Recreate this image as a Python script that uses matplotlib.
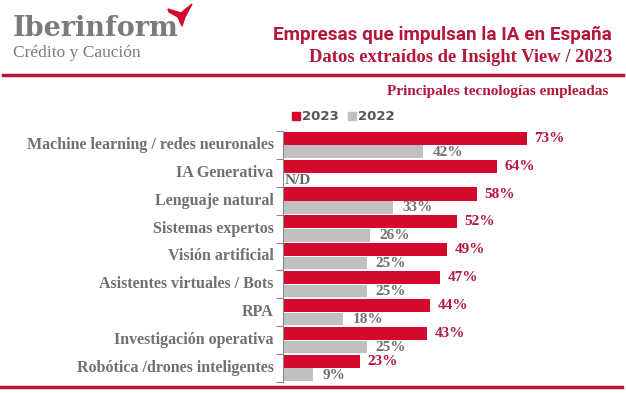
import matplotlib
matplotlib.use("Agg")
import matplotlib.pyplot as plt
from matplotlib.patches import Polygon, Rectangle
from matplotlib.lines import Line2D
import numpy as np

# datos
categorias = ["Machine learning / redes neuronales", "IA Generativa", "Lenguaje natural",
              "Sistemas expertos", "Visión artificial", "Asistentes virtuales / Bots",
              "RPA", "Investigación operativa", "Robótica /drones inteligentes"]
valores_2023 = [73, 64, 58, 52, 49, 47, 44, 43, 23]
valores_2022 = [42, None, 33, 26, 25, 25, 18, 25, 9]
series = ["2023", "2022"]

ROJO = "#d20a2e"
ROJO_TXT = "#b5173c"
GRIS = "#c0c0c0"
GRIS_TXT = "#707070"
W, H = 626, 393

fig = plt.figure(figsize=(W / 100, H / 100), dpi=100)

def fx(px):
    return px / W

def fy(py):
    return 1 - py / H

serif = dict(family="Liberation Serif", weight="bold")

# cabecera
fig.text(fx(13), fy(36), "Iberinform", color="#7b7b7b", fontsize=19.5,
         family="DejaVu Serif", weight="bold")
fig.text(fx(13), fy(57), "Crédito y Caución", color="#7b7b7b", fontsize=12.5,
         family="Liberation Serif")
pajaro = [(168, 9), (181, 13), (192, 4), (185, 17), (182, 26), (178, 17), (169, 12)]
fig.patches.append(Polygon([(fx(a), fy(b)) for a, b in pajaro], closed=True, color=ROJO,
                           transform=fig.transFigure))

fig.text(fx(612), fy(40), "Empresas que impulsan la IA en España", color=ROJO_TXT,
         fontsize=13.6, family="Roboto", weight="bold", ha="right")
fig.text(fx(612), fy(62), "Datos extraídos de Insight View / 2023", color=ROJO_TXT,
         fontsize=13.4, ha="right", **serif)
fig.lines.append(Line2D([fx(3), fx(623)], [fy(75), fy(75)], color="#b5173c", lw=2.5,
                        transform=fig.transFigure))
fig.text(fx(608), fy(95), "Principales tecnologías empleadas", color=ROJO_TXT,
         fontsize=11, ha="right", **serif)
fig.lines.append(Line2D([fx(0), fx(622)], [fy(387), fy(387)], color="#b5173c", lw=2.5,
                        transform=fig.transFigure))

# leyenda
for x0, col, lab in [(292, ROJO, series[0]), (348, GRIS, series[1])]:
    fig.patches.append(Rectangle((fx(x0), fy(120)), fx(8), 8 / H, color=col,
                                 transform=fig.transFigure))
    fig.text(fx(x0 + 10), fy(116), lab, color="#555555", fontsize=9.5,
             family="DejaVu Sans", weight="bold", va="center")

# grafico
ax = fig.add_axes([fx(283), fy(382), fx(334), (382 - 131) / H])
y = np.arange(len(categorias))
ax.barh(y - 0.24, valores_2023, height=0.47, color=ROJO)
v22 = [v if v is not None else 0 for v in valores_2022]
ax.barh(y + 0.24, v22, height=0.45, color=GRIS)

for i in range(len(categorias)):
    ax.text(valores_2023[i] + 2.3, i - 0.24, f"{valores_2023[i]}%", color=ROJO_TXT,
            fontsize=11, va="center", **serif)
    if valores_2022[i] is None:
        ax.text(0.6, i + 0.26, "N/D", color="#666666", fontsize=11, va="center", **serif)
    else:
        ax.text(valores_2022[i] + 2.8, i + 0.26, f"{valores_2022[i]}%", color=GRIS_TXT,
                fontsize=11, va="center", **serif)
    ax.text(-2.8, i, categorias[i], color=GRIS_TXT, fontsize=11.5, ha="right", va="center",
            **serif)

ax.set_xlim(0, 100)
ax.set_ylim(len(categorias) - 0.5, -0.5)
ax.set_yticks(np.arange(len(categorias) + 1) - 0.5)
ax.set_yticklabels([])
ax.tick_params(axis="y", length=5, color="#888888", width=0.8)
ax.set_xticks([])
for s in ["top", "right", "bottom"]:
    ax.spines[s].set_visible(False)
ax.spines["left"].set_color("#888888")
ax.spines["left"].set_linewidth(0.8)
ax.patch.set_alpha(0)

fig.savefig("out.png", dpi=100)
